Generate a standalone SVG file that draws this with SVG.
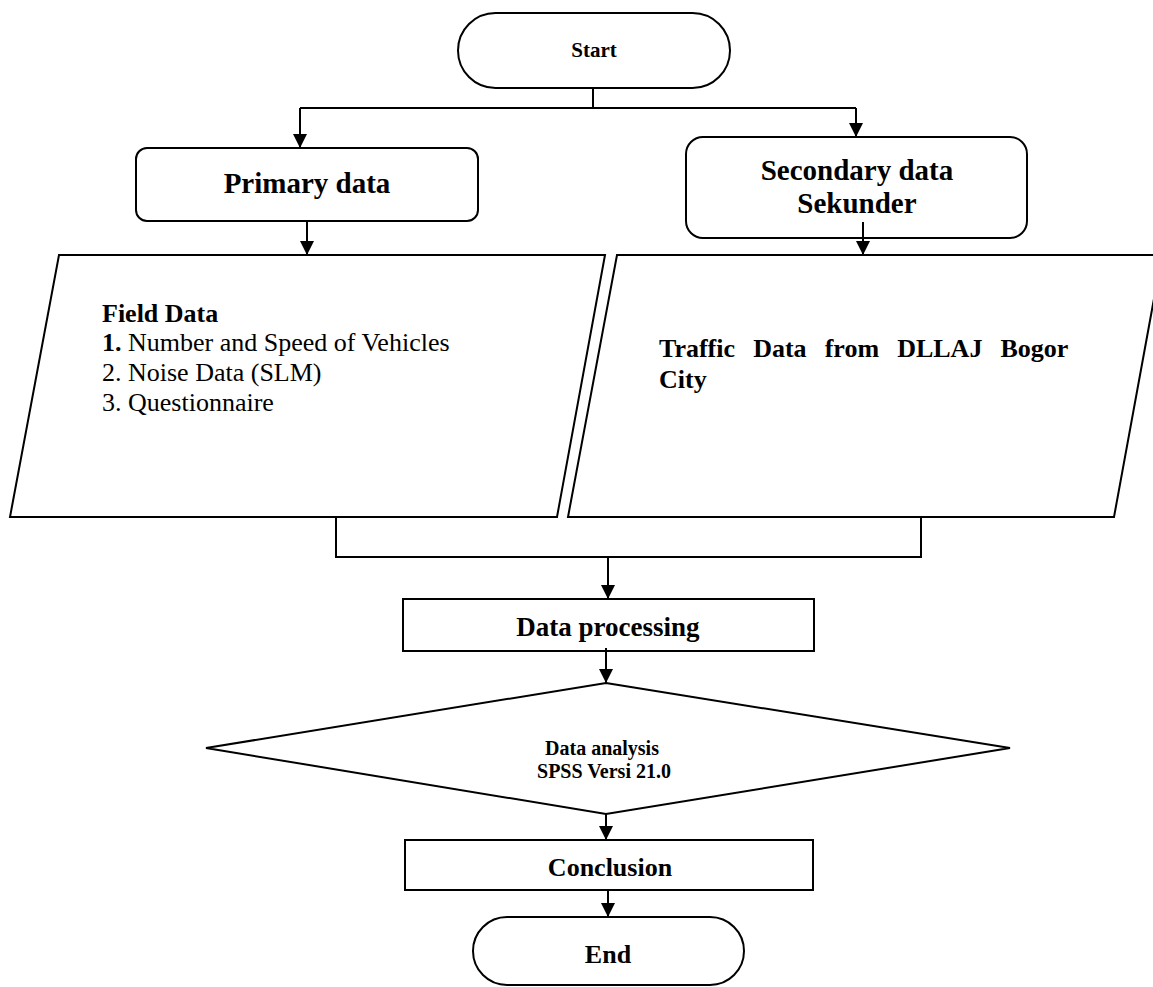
<svg xmlns="http://www.w3.org/2000/svg" width="1153" height="987" viewBox="0 0 1153 987">
<style>
.s{fill:#fff;stroke:#000;stroke-width:2}
.c{fill:none;stroke:#000;stroke-width:2}
.t{font-family:"Liberation Serif","Times New Roman",serif;fill:#000}
.b{font-weight:bold}
</style>
<defs>
<marker id="ah" markerUnits="userSpaceOnUse" markerWidth="14" markerHeight="14" refX="14" refY="7" orient="auto" viewBox="0 0 14 14">
<path d="M0,0 L14,7 L0,14 z" fill="#000"/>
</marker>
</defs>
<rect width="1153" height="987" fill="#fff"/>
<g id="start">
<rect class="s" x="458" y="13" width="272" height="75" rx="37.5"/>
<text class="t b" x="594" y="57" font-size="21" text-anchor="middle">Start</text>
</g>
<g id="primary">
<rect class="s" x="136" y="148" width="342" height="73" rx="11"/>
<text class="t b" x="307" y="193" font-size="29" text-anchor="middle">Primary data</text>
</g>
<g id="secondary">
<rect class="s" x="686" y="137" width="341" height="101" rx="17"/>
<text class="t b" x="857" y="180" font-size="29" text-anchor="middle">Secondary data</text>
<text class="t b" x="857" y="213" font-size="29" text-anchor="middle">Sekunder</text>
</g>
<g id="field-data">
<polygon class="s" points="59,255 605,255 557,517 10,517"/>
<text class="t b" x="102" y="322" font-size="26">Field Data</text>
<text class="t" x="102" y="351" font-size="26"><tspan font-weight="bold">1.</tspan> Number and Speed of Vehicles</text>
<text class="t" x="102" y="381" font-size="26">2. Noise Data (SLM)</text>
<text class="t" x="102" y="411" font-size="26">3. Questionnaire</text>
</g>
<g id="traffic-data">
<polygon class="s" points="617,255 1162,255 1114,517 568,517"/>
<text class="t b" x="659" y="357" font-size="26" word-spacing="11.6">Traffic Data from DLLAJ Bogor</text>
<text class="t b" x="659" y="388" font-size="26">City</text>
</g>
<g id="processing">
<rect class="s" x="403" y="599" width="411" height="52"/>
<text class="t b" x="608" y="636" font-size="27" text-anchor="middle">Data processing</text>
</g>
<g id="analysis">
<polygon class="s" points="606,683 1010,748 606,814 206,748"/>
<text class="t b" x="602" y="755" font-size="20" text-anchor="middle">Data analysis</text>
<text class="t b" x="604" y="778" font-size="20" text-anchor="middle">SPSS Versi 21.0</text>
</g>
<g id="conclusion">
<rect class="s" x="405" y="840" width="408" height="50"/>
<text class="t b" x="610" y="876" font-size="26" text-anchor="middle">Conclusion</text>
</g>
<g id="end">
<rect class="s" x="473" y="917" width="271" height="68" rx="34"/>
<text class="t b" x="608" y="963" font-size="26" text-anchor="middle">End</text>
</g>
<g id="connectors">
<path class="c" d="M593,88 V108 M300,108 H856"/>
<path class="c" d="M300,108 V148" marker-end="url(#ah)"/>
<path class="c" d="M856,108 V137" marker-end="url(#ah)"/>
<path class="c" d="M307,221 V255" marker-end="url(#ah)"/>
<path class="c" d="M863,222 V255" marker-end="url(#ah)"/>
<path class="c" d="M336,517 V557 H921 V517"/>
<path class="c" d="M608,557 V599" marker-end="url(#ah)"/>
<path class="c" d="M606,648 V683" marker-end="url(#ah)"/>
<path class="c" d="M606,814 V840" marker-end="url(#ah)"/>
<path class="c" d="M608,890 V917" marker-end="url(#ah)"/>
</g>
</svg>
